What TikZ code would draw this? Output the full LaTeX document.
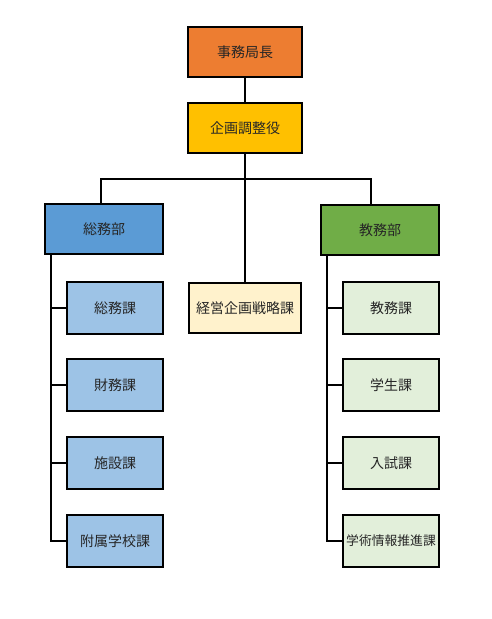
\documentclass[tikz,border=0pt]{standalone}
\usepackage{fontspec}
\setmainfont{Noto Sans CJK JP}
\usetikzlibrary{calc}
\definecolor{headcol}{HTML}{ED7D31}
\definecolor{plancol}{HTML}{FFC000}
\definecolor{soumucol}{HTML}{5B9BD5}
\definecolor{kyomucol}{HTML}{70AD47}
\definecolor{lsubcol}{HTML}{9DC3E6}
\definecolor{rsubcol}{HTML}{E2EFDA}
\definecolor{keieicol}{HTML}{FFF2CC}
\tikzset{
  box/.style={draw=black, line width=2pt, text=black!85, inner sep=0pt,
    font=\fontsize{14}{16}\selectfont},
  link/.style={line width=2pt}
}
\begin{document}
\begin{tikzpicture}[x=1pt,y=-1pt]
\useasboundingbox (0,0) rectangle (492,619);

\node[box, fill=headcol, minimum width=114pt, minimum height=50pt] (head) at (245,52) {事務局長};
\node[box, fill=plancol, minimum width=114pt, minimum height=50pt] (plan) at (245,128) {企画調整役};
\node[box, fill=soumucol, minimum width=118pt, minimum height=50pt] (soumu) at (104,229) {総務部};
\node[box, fill=kyomucol, minimum width=118pt, minimum height=50pt] (kyomu) at (380,230) {教務部};
\node[box, fill=keieicol, minimum width=112pt, minimum height=50pt] (keiei) at (245,308) {経営企画戦略課};

\foreach \i/\y/\lab in {1/308/総務課, 2/385/財務課, 3/463/施設課, 4/541/附属学校課}
{
    \node[box, fill=lsubcol, minimum width=96pt, minimum height=52pt] (l\i) at (115,\y) {\lab};
}
\foreach \i/\y/\lab in {1/308/教務課, 2/385/学生課, 3/463/入試課, 4/541/{\fontsize{12.8}{14}\selectfont 学術情報推進課}}
{
    \node[box, fill=rsubcol, minimum width=96pt, minimum height=52pt] (r\i) at (391,\y) {\lab};
}

\coordinate (bar) at (245,179);
\draw[link] (head) -- (plan);
\draw[link] (plan) -- (keiei);
\draw[link] ($(soumu.north)+(-3,0)$) |- (bar) -| ($(kyomu.north)+(-9,0)$);

\foreach \i in {1,...,4}
{
    \draw[link] ($(soumu.south west)+(7,0)$) |- (l\i.west);
    \draw[link] ($(kyomu.south west)+(7,0)$) |- (r\i.west);
}
\end{tikzpicture}
\end{document}
